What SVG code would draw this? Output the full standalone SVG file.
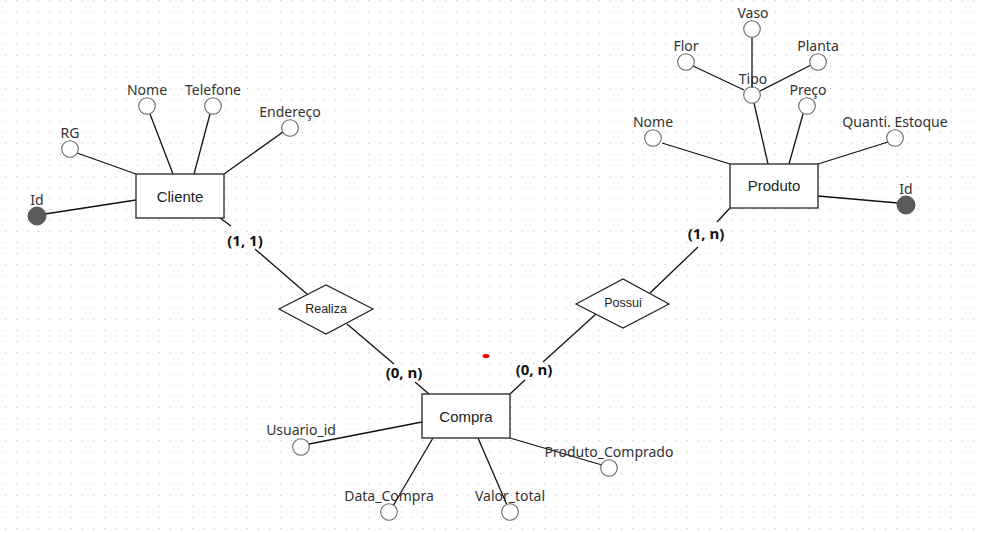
<svg xmlns="http://www.w3.org/2000/svg" width="981" height="533" viewBox="0 0 981 533">
<defs>
<pattern id="dots" x="5" y="0" width="11" height="11" patternUnits="userSpaceOnUse">
<rect x="-0.6" y="-0.6" width="1.4" height="1.4" fill="#a6a6a6"/>
</pattern>
<style>
.ent{fill:#fff;stroke:#333;stroke-width:1.4}
.rel{fill:#fff;stroke:#222;stroke-width:1.2}
.att{fill:#fff;stroke:#666;stroke-width:1.1}
.key{fill:#5a5a5a;stroke:#555;stroke-width:1}
.ln{stroke:#111;stroke-width:1.3;fill:none}
.lbl{font-family:"Noto Sans","Liberation Sans",sans-serif;font-size:14px;fill:#333;text-anchor:middle;dominant-baseline:central}
.etx{font-family:"Liberation Sans",Arial,sans-serif;font-size:15px;fill:#222;text-anchor:middle;dominant-baseline:central}
.rtx{font-family:"Liberation Sans",Arial,sans-serif;font-size:12.5px;fill:#222;text-anchor:middle;dominant-baseline:central}
.card{font-family:"Noto Sans","Liberation Sans",sans-serif;font-size:15px;font-weight:bold;fill:#111;text-anchor:middle;dominant-baseline:central}
</style>
</defs>
<rect width="981" height="533" fill="#fff"/>
<rect width="981" height="533" fill="url(#dots)"/>

<g id="connectors">
<!-- Cliente -->
<line class="ln" x1="77" y1="153" x2="136" y2="174"/>
<line class="ln" x1="150" y1="114" x2="173" y2="174"/>
<line class="ln" x1="210" y1="114" x2="194" y2="174"/>
<line class="ln" x1="283" y1="132" x2="224" y2="174"/>
<line class="ln" x1="45" y1="214" x2="136" y2="200"/>
<line class="ln" x1="220" y1="218" x2="231" y2="226"/>
<line class="ln" x1="255" y1="249" x2="307" y2="294"/>
<!-- Realiza - Compra -->
<line class="ln" x1="347" y1="324" x2="394" y2="364"/>
<line class="ln" x1="415" y1="382" x2="429" y2="394"/>
<!-- Possui - Compra -->
<line class="ln" x1="596" y1="314" x2="543" y2="362"/>
<line class="ln" x1="525" y1="380" x2="510" y2="394"/>
<!-- Possui - Produto -->
<line class="ln" x1="650" y1="293" x2="698" y2="247"/>
<line class="ln" x1="717" y1="222" x2="730" y2="208"/>
<!-- Produto -->
<line class="ln" x1="662" y1="143" x2="730" y2="164"/>
<line class="ln" x1="754" y1="103" x2="768" y2="164"/>
<line class="ln" x1="752" y1="37" x2="752" y2="87"/>
<line class="ln" x1="693" y1="66" x2="744" y2="90"/>
<line class="ln" x1="811" y1="65" x2="760" y2="91"/>
<line class="ln" x1="803" y1="114" x2="789" y2="164"/>
<line class="ln" x1="888" y1="142" x2="818" y2="164"/>
<line class="ln" x1="818" y1="196" x2="898" y2="203"/>
<!-- Compra -->
<line class="ln" x1="309" y1="444" x2="422" y2="422"/>
<line class="ln" x1="393" y1="506" x2="433" y2="438"/>
<line class="ln" x1="507" y1="505" x2="478" y2="438"/>
<line class="ln" x1="602" y1="465" x2="510" y2="438"/>
</g>

<g id="cardinalities">
<text class="card" x="245" y="240">(1, 1)</text>
<text class="card" x="404" y="372">(0, n)</text>
<text class="card" x="534" y="369">(0, n)</text>
<text class="card" x="706" y="233">(1, n)</text>
</g>

<g id="cliente">
<rect class="ent" x="136" y="174" width="88" height="44"/>
<text class="etx" x="180" y="196">Cliente</text>
</g>
<g id="cliente-rg"><circle class="att" cx="70" cy="149" r="8.3"/><text class="lbl" x="70" y="132">RG</text></g>
<g id="cliente-nome"><circle class="att" cx="147" cy="106" r="8.3"/><text class="lbl" x="147" y="89">Nome</text></g>
<g id="cliente-telefone"><circle class="att" cx="213" cy="106" r="8.3"/><text class="lbl" x="213" y="89">Telefone</text></g>
<g id="cliente-endereco"><circle class="att" cx="290" cy="128" r="8.3"/><text class="lbl" x="290" y="111">Endereço</text></g>
<g id="cliente-id"><circle class="key" cx="37" cy="216" r="9"/><text class="lbl" x="37" y="199">Id</text></g>

<g id="realiza">
<polygon class="rel" points="279,309 326,285 373,309 326,334"/>
<text class="rtx" x="326" y="309">Realiza</text>
</g>

<g id="possui">
<polygon class="rel" points="576,304 623,279 669,304 623,328"/>
<text class="rtx" x="623" y="303">Possui</text>
</g>

<g id="produto">
<rect class="ent" x="730" y="164" width="88" height="44"/>
<text class="etx" x="774" y="185">Produto</text>
</g>
<g id="produto-nome"><circle class="att" cx="653" cy="138" r="8.3"/><text class="lbl" x="653" y="121">Nome</text></g>
<g id="produto-tipo"><circle class="att" cx="752" cy="95" r="8.3"/><text class="lbl" x="753" y="78">Tipo</text></g>
<g id="tipo-vaso"><circle class="att" cx="752" cy="29" r="8.3"/><text class="lbl" x="753" y="12">Vaso</text></g>
<g id="tipo-flor"><circle class="att" cx="686" cy="62" r="8.3"/><text class="lbl" x="686" y="45">Flor</text></g>
<g id="tipo-planta"><circle class="att" cx="818" cy="62" r="8.3"/><text class="lbl" x="818" y="45">Planta</text></g>
<g id="produto-preco"><circle class="att" cx="807" cy="106" r="8.3"/><text class="lbl" x="808" y="89">Preço</text></g>
<g id="produto-estoque"><circle class="att" cx="895" cy="138" r="8.3"/><text class="lbl" x="895" y="121">Quanti. Estoque</text></g>
<g id="produto-id"><circle class="key" cx="906" cy="205" r="9"/><text class="lbl" x="906" y="188">Id</text></g>

<g id="compra">
<rect class="ent" x="422" y="394" width="88" height="44"/>
<text class="etx" x="466" y="416">Compra</text>
</g>
<g id="compra-usuario"><circle class="att" cx="301" cy="447" r="8.3"/><text class="lbl" x="301" y="429">Usuario_id</text></g>
<g id="compra-data"><circle class="att" cx="389" cy="512" r="8.3"/><text class="lbl" x="389" y="495">Data_Compra</text></g>
<g id="compra-valor"><circle class="att" cx="510" cy="512" r="8.3"/><text class="lbl" x="510" y="495">Valor_total</text></g>
<g id="compra-produto"><circle class="att" cx="609" cy="468" r="8.3"/><text class="lbl" x="609" y="451">Produto_Comprado</text></g>

<ellipse cx="486" cy="356" rx="3.5" ry="2" fill="#e00"/>
</svg>
